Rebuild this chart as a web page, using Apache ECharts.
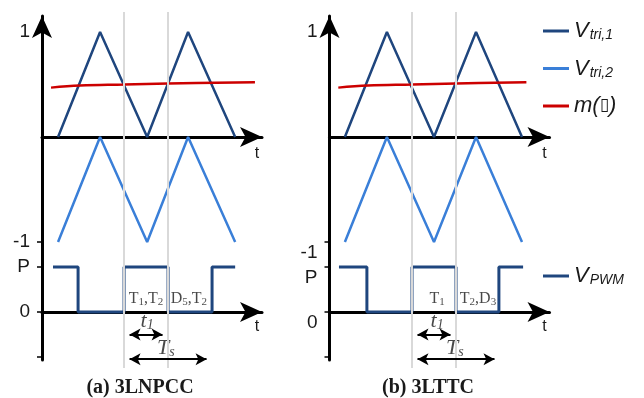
<!DOCTYPE html>
<html>
<head>
<meta charset="utf-8">
<script src="https://cdn.jsdelivr.net/npm/echarts@6/dist/echarts.min.js"></script>
<style>
  html, body { margin: 0; padding: 0; background: #fff; }
  #c { width: 644px; height: 398px; }
</style>
</head>
<body>
<div id="c"></div>
<script>
// ---- signal data (time in units of a quarter carrier period) ----
const triTimesA  = [0, 1.91, 4.05, 5.91, 8.05];      // carrier corners, 3LNPCC
const triTimesB  = [-0.05, 1.86, 4.0, 5.91, 8.0];    // carrier corners, 3LTTC
const vTri1      = [0, 1, 0, 1, 0];                  // upper carrier
const vTri2      = [-1, 0, -1, 0, -1];               // lower carrier
const mTimesA    = [-0.32, 1, 3, 5, 8.95];
const mTimesB    = [-0.35, 1, 3, 5, 8.2];
const mVals      = [0.47, 0.49, 0.50, 0.51, 0.52];   // modulating signal
const pwmTimesA  = [-0.23, 0.91, 0.91, 3, 3, 5, 5, 7, 7, 8.05];
const pwmTimesB  = [-0.32, 0.95, 0.95, 3, 3, 5, 5, 6.95, 6.95, 8.05];
const pwmLevels  = [1, 1, 0, 0, 1, 1, 0, 0, 1, 1];   // 1 = P, 0 = zero level
const sampleTimes = [3, 5];                          // switching instants
const t1Span     = [3, 5];
const tsSpan     = [3, 7];
const yTicksTri  = [1, -1];
const yTicksPwm  = [1, 0, -1];

const SANS  = "'Liberation Sans', Arial, sans-serif";
const SERIF = "'Liberation Serif', 'Times New Roman', serif";
const C_DARK = '#1f467e', C_LIGHT = '#3a7fd8', C_RED = '#cc0000';
const C_AXIS = '#000', C_GUIDE = '#d9d9d9', C_TEXT = '#1a1a1a';

const UNIT = 22;          // px per time unit
const PLOT_W = 220;
const ARROW_INSET = 5.5 / UNIT;

const panels = [
  {
    left: 42, xMin: -0.73, tri: triTimesA, m: mTimesA, pwm: pwmTimesA, shift: 0,
    states: [
      { t: 4.0,  text: '{r|T}{sb|1}{r|,T}{sb|2}' },
      { t: 5.95, text: '{r|D}{sb|5}{r|,T}{sb|2}' }
    ],
    t1At: 4.05, tsAt: 4.9, caption: '(a) 3LNPCC', captionX: 140
  },
  {
    left: 329.5, xMin: -0.75, tri: triTimesB, m: mTimesB, pwm: pwmTimesB, shift: 11,
    states: [
      { t: 4.14, text: '{r|T}{sb|1}' },
      { t: 6.0,  text: '{r|T}{sb|2}{r|,D}{sb|3}' }
    ],
    t1At: 4.14, tsAt: 4.95, caption: '(b) 3LTTC', captionX: 428
  }
];

const zip = (xs, ys) => xs.map((x, i) => [x, ys[i]]);

const grids = [], xAxes = [], yAxes = [], series = [], graphics = [];

const labelRich = (shift) => ({
  n: { fontFamily: SANS, fontSize: 19, color: C_TEXT },
  d: { fontFamily: SANS, fontSize: 19, color: C_TEXT, padding: [2 * shift, 0, 0, 0] }
});

panels.forEach((p) => {
  const g = grids.length;
  const xMax = p.xMin + PLOT_W / UNIT;
  grids.push({ left: p.left, top: 16,  width: PLOT_W, height: 226 }); // carriers
  grids.push({ left: p.left, top: 242, width: PLOT_W, height: 118 }); // PWM output
  grids.push({ left: p.left, top: 12,  width: PLOT_W, height: 356 }); // switching guides

  const line = (arrow, onZero) => ({
    show: true, onZero: onZero,
    lineStyle: { color: C_AXIS, width: 3 },
    symbol: arrow ? ['none', 'arrow'] : 'none',
    symbolSize: [15, 22]
  });
  const xBase = { type: 'value', min: p.xMin, max: xMax, splitLine: { show: false },
                  axisTick: { show: false }, axisLabel: { show: false }, z: 1 };
  xAxes.push(Object.assign({ gridIndex: g,     axisLine: line(true, true) }, xBase));
  xAxes.push(Object.assign({ gridIndex: g + 1, axisLine: line(true, true) }, xBase));
  xAxes.push(Object.assign({ gridIndex: g + 2, show: false }, xBase));

  yAxes.push({
    gridIndex: g, type: 'value', min: -1, max: 1.152, z: 1,
    axisLine: line(true, false), splitLine: { show: false },
    axisTick: { show: true, customValues: yTicksTri, length: 5, lineStyle: { color: C_AXIS, width: 1.5 } },
    axisLabel: { show: true, customValues: yTicksTri, margin: 12,
      formatter: v => v > 0 ? '{n|1}' : '{d|-1}', rich: labelRich(p.shift) }
  });
  yAxes.push({
    gridIndex: g + 1, type: 'value', min: -1.067, max: 1.556, z: 1,
    axisLine: line(false, false), splitLine: { show: false },
    axisTick: { show: true, customValues: yTicksPwm, length: 5, lineStyle: { color: C_AXIS, width: 1.5 } },
    axisLabel: { show: true, customValues: yTicksPwm, margin: 12,
      formatter: v => v === 1 ? '{d|P}' : (v === 0 ? '{d|0}' : ''), rich: labelRich(p.shift) }
  });
  yAxes.push({ gridIndex: g + 2, type: 'value', min: 0, max: 1, show: false });

  const common = { type: 'line', showSymbol: false, silent: true, animation: false, z: 2 };
  series.push(Object.assign({ name: 'Vtri1', xAxisIndex: g, yAxisIndex: g, data: zip(p.tri, vTri1),
    color: C_DARK, lineStyle: { color: C_DARK, width: 2.5 } }, common));
  series.push(Object.assign({ name: 'Vtri2', xAxisIndex: g, yAxisIndex: g, data: zip(p.tri, vTri2),
    color: C_LIGHT, lineStyle: { color: C_LIGHT, width: 2.5 } }, common));
  series.push(Object.assign({ name: 'm', xAxisIndex: g, yAxisIndex: g, data: zip(p.m, mVals), smooth: 0.4,
    color: C_RED, lineStyle: { color: C_RED, width: 2.5 } }, common));
  series.push(Object.assign({ name: 'Vpwm', xAxisIndex: g + 1, yAxisIndex: g + 1, data: zip(p.pwm, pwmLevels),
    color: C_DARK, lineStyle: { color: C_DARK, width: 3 } }, common));

  // vertical guides at the switching instants
  series.push({
    type: 'line', xAxisIndex: g + 2, yAxisIndex: g + 2, data: [], silent: true, animation: false, z: 0,
    markLine: { symbol: 'none', silent: true, animation: false, label: { show: false },
      lineStyle: { color: C_GUIDE, width: 2, type: 'solid' },
      data: sampleTimes.map(t => ({ xAxis: t })) }
  });

  // device states, interval labels and dimension arrows
  const richText = {
    r:  { fontFamily: SERIF, fontSize: 16, color: C_TEXT },
    sb: { fontFamily: SERIF, fontSize: 11, color: C_TEXT, padding: [7, 0, 0, 0] },
    i:  { fontFamily: SERIF, fontSize: 22, fontStyle: 'italic', color: C_TEXT },
    is: { fontFamily: SERIF, fontSize: 14, fontStyle: 'italic', color: C_TEXT, padding: [9, 0, 0, 0] }
  };
  const notes = p.states.map(s => ({ value: [s.t, 0.29], text: s.text }));
  notes.push({ value: [p.t1At, -0.2], text: '{i|t}{is|1}' });
  notes.push({ value: [p.tsAt, -0.8], text: '{i|T}{is|s}' });
  series.push({
    type: 'scatter', xAxisIndex: g + 1, yAxisIndex: g + 1, symbolSize: 0, silent: true, animation: false, z: 3,
    data: notes,
    label: { show: true, position: 'inside', formatter: prm => prm.data.text, rich: richText },
    markLine: {
      silent: true, animation: false, symbol: ['arrow', 'arrow'], symbolSize: [9, 11],
      label: { show: false }, lineStyle: { color: '#000', width: 2, type: 'solid' },
      data: [
        [{ coord: [t1Span[0] + ARROW_INSET, -0.5] }, { coord: [t1Span[1] - ARROW_INSET, -0.5] }],
        [{ coord: [tsSpan[0] + ARROW_INSET, -1.05] }, { coord: [tsSpan[1] - ARROW_INSET, -1.05] }]
      ]
    }
  });

  graphics.push({ type: 'text', x: p.left + 215, y: 154,
    style: { text: 't', font: `16px ${SANS}`, fill: C_TEXT, align: 'center', verticalAlign: 'middle' } });
  graphics.push({ type: 'text', x: p.left + 215, y: 327,
    style: { text: 't', font: `16px ${SANS}`, fill: C_TEXT, align: 'center', verticalAlign: 'middle' } });
  graphics.push({ type: 'text', x: p.captionX, y: 388,
    style: { text: p.caption, font: `bold 20px ${SERIF}`, fill: C_TEXT, align: 'center', verticalAlign: 'middle' } });
});

const legendNames = {
  Vtri1: '{v|V}{s|tri,1}',
  Vtri2: '{v|V}{s|tri,2}',
  m:     '{v|m(}{b|\u25AF}{v|)}',
  Vpwm:  '{v|V}{s|PWM}'
};
const legendRich = {
  v: { fontFamily: SANS, fontStyle: 'italic', fontSize: 22, color: C_TEXT },
  b: { fontFamily: "'DejaVu Sans', sans-serif", fontSize: 17, color: C_TEXT },
  s: { fontFamily: SANS, fontStyle: 'italic', fontSize: 14, color: C_TEXT, padding: [9, 0, 0, 1] }
};
const legendBase = {
  orient: 'vertical', left: 538, itemWidth: 26, itemHeight: 3, icon: 'rect',
  selectedMode: false, formatter: n => legendNames[n], textStyle: { rich: legendRich }
};

const chart = echarts.init(document.getElementById('c'), null, { renderer: 'canvas' });
chart.setOption({
  animation: false,
  backgroundColor: '#fff',
  grid: grids,
  xAxis: xAxes,
  yAxis: yAxes,
  legend: [
    Object.assign({ data: ['Vtri1', 'Vtri2', 'm'], top: 15, itemGap: 15 }, legendBase),
    Object.assign({ data: ['Vpwm'], top: 260 }, legendBase)
  ],
  graphic: graphics,
  series: series
});
</script>
</body>
</html>
